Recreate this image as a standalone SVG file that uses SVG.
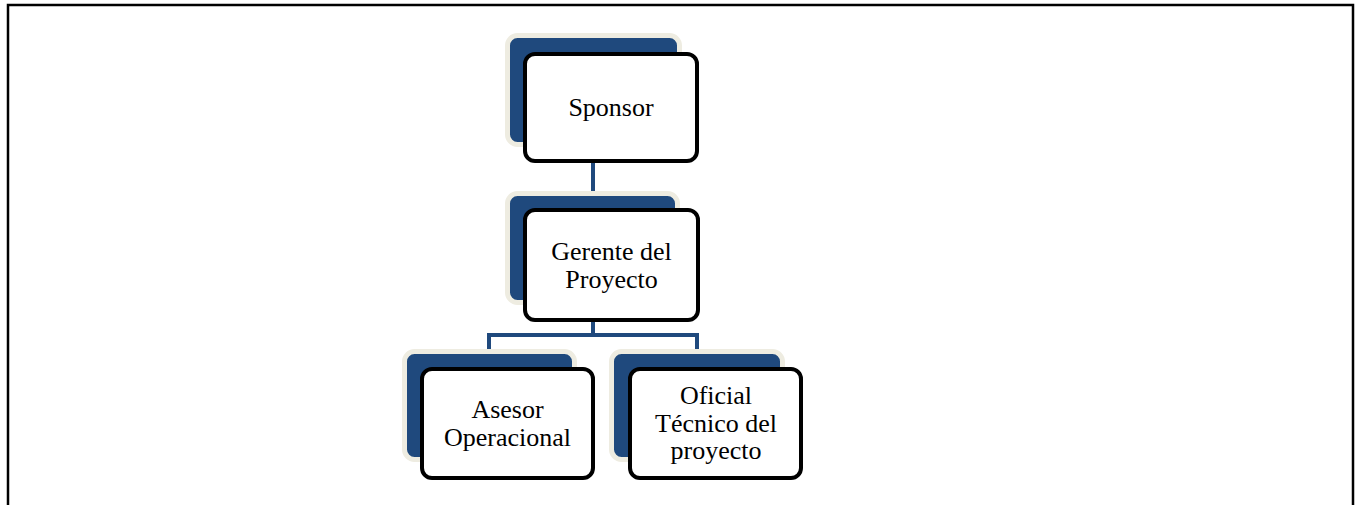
<svg xmlns="http://www.w3.org/2000/svg" width="1357" height="505" viewBox="0 0 1357 505">
<style>
.back{fill:#1F497D;stroke:#EEECE1;stroke-width:5}
.front{fill:#FFFFFF;stroke:#000000;stroke-width:4}
.lbl{font-family:"Liberation Serif","Times New Roman",serif;font-size:26px;fill:#000000;text-anchor:middle}
.conn{fill:none;stroke:#1F497D;stroke-width:4}
</style>
<rect x="0" y="0" width="1357" height="505" fill="#FFFFFF"/>
<path d="M8 505 V5 H1353 V505" fill="none" stroke="#000000" stroke-width="2.5"/>
<g id="connectors">
<path class="conn" d="M593 161 V210"/>
<path class="conn" d="M593 320 V335 M489 354 V335 H697 V354"/>
</g>
<g id="sponsor">
<rect class="back" x="507.5" y="35.5" width="172" height="109" rx="10"/>
<rect class="front" x="525" y="54" width="172" height="107" rx="10"/>
<text class="lbl" x="611" y="116">Sponsor</text>
</g>
<g id="gerente">
<rect class="back" x="507.5" y="193.5" width="170" height="109" rx="10"/>
<rect class="front" x="525" y="210" width="173" height="110" rx="10"/>
<text class="lbl" x="611.5" y="260">Gerente del</text>
<text class="lbl" x="611.5" y="288">Proyecto</text>
</g>
<g id="asesor">
<rect class="back" x="404.5" y="351.5" width="170" height="108" rx="10"/>
<rect class="front" x="422" y="369" width="171" height="109" rx="10"/>
<text class="lbl" x="507.5" y="418">Asesor</text>
<text class="lbl" x="507.5" y="446">Operacional</text>
</g>
<g id="oficial">
<rect class="back" x="611.5" y="351.5" width="171" height="108" rx="10"/>
<rect class="front" x="630" y="369" width="171" height="109" rx="10"/>
<text class="lbl" x="716" y="404">Oficial</text>
<text class="lbl" x="716" y="432">Técnico del</text>
<text class="lbl" x="716" y="459">proyecto</text>
</g>
</svg>
